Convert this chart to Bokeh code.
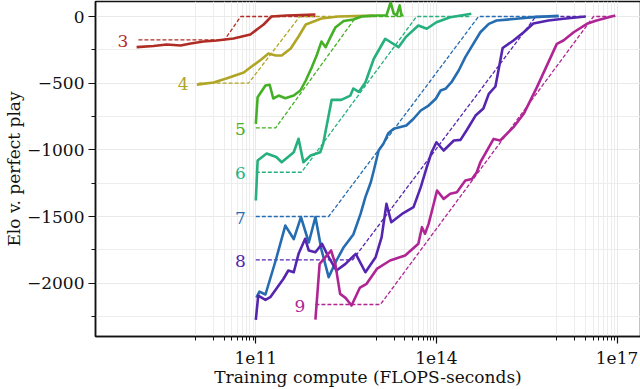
import colorsys
import numpy as np
from bokeh.plotting import figure
from bokeh.models import Range1d, FixedTicker, CustomJSTickFormatter, ColumnDataSource
from bokeh.embed import file_html
from bokeh.resources import INLINE
from bokeh.core.properties import value

# ---- data: log10(training compute) and Elo v. perfect play, per board size ----
board_sizes = [3, 4, 5, 6, 7, 8, 9]

c3_logx = [9.02, 9.30, 9.52, 9.75, 9.92, 10.13, 10.35, 10.63, 10.91, 11.04, 11.13, 11.26, 11.51, 11.99]
c3_elo = [-230, -221, -210, -218, -203, -188, -180, -165, -135, -90, -60, 0, 8, 15]

c4_logx = [10.02, 10.30, 10.51, 10.80, 10.93, 11.09, 11.21, 11.33, 11.43, 11.58, 11.71, 11.83, 12.09, 12.37, 12.96]
c4_elo = [-511, -495, -465, -420, -375, -323, -278, -293, -293, -240, -150, -60, -15, 0, 8]

c5_logx = [11.00, 11.03, 11.16, 11.23, 11.29, 11.38, 11.49, 11.63, 11.74, 11.83, 11.93, 12.01, 12.09, 12.16,
           12.24, 12.32, 12.46, 12.62, 12.76, 13.00, 13.17, 13.24, 13.29, 13.34, 13.39, 13.42, 13.45]
c5_elo = [-805, -605, -518, -512, -615, -593, -613, -593, -555, -480, -380, -293, -188, -230,
          -155, -83, -34, -23, 0, 8, 8, 107, 23, 8, 83, 8, 13]

c6_logx = [11.00, 11.03, 11.18, 11.34, 11.43, 11.63, 11.71, 11.79, 11.91, 12.07, 12.12, 12.26, 12.42, 12.57,
           12.62, 12.71, 12.82, 12.96, 13.15, 13.37, 13.49, 13.70, 13.84, 14.00, 14.23, 14.58]
c6_elo = [-1380, -1080, -1028, -1054, -1093, -1018, -917, -1093, -1043, -1018, -953, -625, -625, -593,
          -540, -566, -495, -317, -167, -230, -155, -68, -92, -43, -5, 20]

c7_logx = [11.01, 11.06, 11.16, 11.33, 11.49, 11.63, 11.75, 11.88, 11.99, 12.09, 12.21, 12.34, 12.46, 12.62,
           12.74, 12.82, 12.91, 12.96, 13.04, 13.12, 13.20, 13.29, 13.50, 13.62, 13.74, 13.87, 13.99, 14.07,
           14.15, 14.25, 14.37, 14.48, 14.58, 14.73, 14.87, 15.00, 15.33, 15.61, 16.03]
c7_elo = [-2108, -2063, -2085, -1830, -1568, -1669, -1504, -1695, -1504, -1748, -1955, -1830, -1730, -1635,
          -1480, -1355, -1243, -1155, -1005, -955, -875, -842, -818, -767, -705, -668, -617, -555,
          -542, -493, -405, -305, -230, -118, -55, -30, -17, -5, 5]

c8_logx = [11.00, 11.04, 11.16, 11.24, 11.46, 11.54, 11.63, 11.71, 11.82, 11.88, 11.99, 12.10, 12.21, 12.34,
           12.49, 12.66, 12.82, 12.99, 13.09, 13.17, 13.25, 13.45, 13.62, 13.74, 13.84, 13.92, 14.00, 14.12,
           14.29, 14.40, 14.50, 14.65, 14.78, 14.87, 14.98, 15.03, 15.10, 15.28, 15.45, 15.61, 15.86, 16.11, 16.48]
c8_elo = [-2275, -2093, -2125, -2105, -1967, -1905, -1918, -1780, -1667, -1755, -1768, -1705, -1805, -1905,
          -1855, -1780, -1918, -1805, -1655, -1405, -1543, -1474, -1430, -1280, -1130, -1018, -943, -1005,
          -930, -925, -855, -743, -690, -580, -525, -405, -236, -180, -118, -53, -30, -17, 0]

c9_logx = [11.99, 12.06, 12.25, 12.32, 12.40, 12.49, 12.59, 12.73, 12.84, 13.01, 13.23, 13.48, 13.70, 13.76,
           13.81, 13.87, 13.92, 14.01, 14.12, 14.23, 14.34, 14.48, 14.59, 14.67, 14.73, 14.95, 15.06, 15.28,
           15.45, 15.67, 16.00, 16.11, 16.28, 16.50, 16.66, 16.97]
c9_elo = [-2273, -1855, -1755, -1855, -2080, -2110, -2168, -2033, -2005, -1893, -1830, -1793, -1705, -1580,
          -1630, -1555, -1468, -1305, -1368, -1330, -1318, -1230, -1218, -1168, -1093, -918, -930, -830,
          -730, -530, -205, -180, -118, -55, -30, 8]

# fitted frontier (dashed): plateau level, and log10 compute at start, knee, reaching 0, end
fit_level = [-176, -500, -835, -1168, -1500, -1825, -2160]
fit_start = [9.05, 10.05, 11.00, 11.00, 11.00, 11.00, 11.99]
fit_knee = [10.48, 10.88, 11.33, 11.76, 12.21, 12.61, 13.07]
fit_zero = [10.75, 11.73, 12.67, 13.67, 14.70, 15.65, 16.61]
fit_end = [11.99, 12.96, 13.45, 14.58, 16.03, 16.48, 16.97]

x_major_ticks = [1e11, 1e14, 1e17]
x_minor_ticks = [k * 10.0 ** d for d in (10, 13, 16) for k in range(1, 10)]
y_major_ticks = [0, -500, -1000, -1500, -2000]
y_minor_ticks = [-250, -750, -1250, -1750, -2250]

curves_x = [c3_logx, c4_logx, c5_logx, c6_logx, c7_logx, c8_logx, c9_logx]
curves_y = [c3_elo, c4_elo, c5_elo, c6_elo, c7_elo, c8_elo, c9_elo]

colors = []
for i in range(len(board_sizes)):
    r, g, b = colorsys.hls_to_rgb(0.01 + i / 7.0, 0.42, 0.65)
    colors.append("#%02x%02x%02x" % (int(r * 255), int(g * 255), int(b * 255)))

FONT = "DejaVu Serif"

p = figure(
    x_axis_type="log",
    frame_width=545, frame_height=335,
    min_border_left=92, min_border_right=3, min_border_top=1, min_border_bottom=53,
    x_range=Range1d(10 ** 8.337, 10 ** 17.39),
    y_range=Range1d(-2400, 112.5),
    output_backend="svg", toolbar_location=None,
    background_fill_color="white", border_fill_color="white",
)

p.outline_line_color = "#111111"
p.outline_line_width = 1.5

xt = FixedTicker(ticks=x_major_ticks, minor_ticks=x_minor_ticks)
yt = FixedTicker(ticks=y_major_ticks, minor_ticks=y_minor_ticks)
p.xaxis.ticker = xt
p.yaxis.ticker = yt
p.xgrid.ticker = xt
p.ygrid.ticker = yt
for g in (p.xgrid, p.ygrid):
    g.grid_line_color = "#e9e9e9"
    g.grid_line_width = 1
    g.minor_grid_line_color = "#ededed"
    g.minor_grid_line_width = 1

p.xaxis.formatter = CustomJSTickFormatter(code="return '1e' + Math.round(Math.log10(tick));")
p.yaxis.formatter = CustomJSTickFormatter(code="return tick < 0 ? '\u2212' + Math.abs(tick) : String(tick);")

for ax in (p.xaxis[0], p.yaxis[0]):
    ax.axis_line_color = "#111111"
    ax.axis_line_width = 1.5
    ax.major_tick_line_color = "#111111"
    ax.minor_tick_line_color = "#111111"
    ax.major_tick_line_width = 1.2
    ax.minor_tick_line_width = 1
    ax.major_tick_out = 7
    ax.major_tick_in = 0
    ax.minor_tick_out = 4
    ax.minor_tick_in = 0
    ax.major_label_text_font = FONT
    ax.major_label_text_font_size = "17px"
    ax.major_label_text_color = "#111111"
    ax.axis_label_text_font = FONT
    ax.axis_label_text_font_size = "17px"
    ax.axis_label_text_font_style = "normal"
    ax.axis_label_text_color = "#111111"

p.xaxis.axis_label = "Training compute (FLOPS-seconds)"
p.yaxis.axis_label = "Elo v. perfect play"
p.xaxis.major_label_standoff = 8
p.yaxis.major_label_standoff = 4
p.xaxis.axis_label_standoff = 0
p.yaxis.axis_label_standoff = 0

# dashed frontier fits
for i, n in enumerate(board_sizes):
    lx = [fit_start[i], fit_knee[i], fit_zero[i], fit_end[i]]
    ly = [fit_level[i], fit_level[i], 0, 0]
    p.line(x=[10 ** v for v in lx], y=ly, line_color=colors[i], line_width=1.3, line_dash="4 2")

# solid curves
for i, n in enumerate(board_sizes):
    src = ColumnDataSource(dict(x=[10 ** v for v in curves_x[i]], y=curves_y[i]))
    p.line("x", "y", source=src, line_color=colors[i], line_width=2.6, line_join="round")

# board-size labels at the start of each dashed line
lab = ColumnDataSource(dict(
    x=[10 ** v for v in fit_start],
    y=fit_level,
    t=[str(n) for n in board_sizes],
    c=colors,
))
p.text(x="x", y="y", text="t", source=lab, text_color="c", text_font=value(FONT),
       text_font_size="17px", text_align="right", text_baseline="middle", x_offset=-10, y_offset=1)

open("out.html", "w").write(file_html(p, INLINE))
